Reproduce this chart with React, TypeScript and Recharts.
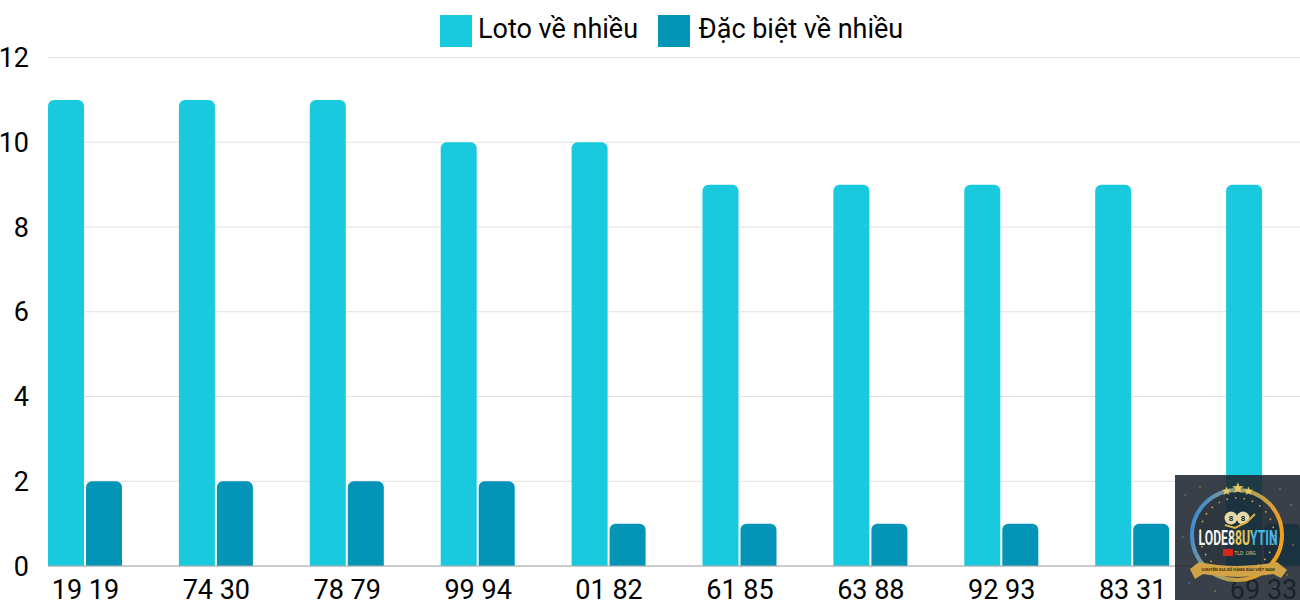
import { BarChart, Bar, XAxis, YAxis, CartesianGrid, Legend } from 'recharts'

const CATEGORIES = ['19 19', '74 30', '78 79', '99 94', '01 82', '61 85', '63 88', '92 93', '83 31', '69 33']
const LOTO_VALUES = [11, 11, 11, 10, 10, 9, 9, 9, 9, 9]
const DAC_BIET_VALUES = [2, 2, 2, 2, 1, 1, 1, 1, 1, 1]
const Y_TICKS = [0, 2, 4, 6, 8, 10, 12]
const SPARKLES = [[10, 20], [25, 12], [105, 14], [116, 30], [8, 62], [118, 70], [14, 108], [40, 116], [100, 112], [112, 100], [30, 30], [96, 28]]

const chartData = CATEGORIES.map((name, i) => ({
  name,
  loto: LOTO_VALUES[i],
  dacBiet: DAC_BIET_VALUES[i],
}))

const FONT = 'Roboto, sans-serif'

// logo in the bottom right corner, drawn over the chart
function Watermark() {
  return (
    <svg
      width={125}
      height={125}
      viewBox="0 0 125 125"
      style={{ position: 'absolute', left: 1175, top: 475 }}
    >
      <defs>
        <linearGradient id="ring" x1="0" y1="0" x2="1" y2="0.3">
          <stop offset="0%" stopColor="#2a86ee" />
          <stop offset="50%" stopColor="#9aa06a" />
          <stop offset="100%" stopColor="#f0a020" />
        </linearGradient>
        <linearGradient id="brand" x1="0" y1="0" x2="1" y2="0">
          <stop offset="0%" stopColor="#f4f4f4" />
          <stop offset="42%" stopColor="#f4f4f4" />
          <stop offset="45%" stopColor="#e8c95e" />
          <stop offset="66%" stopColor="#e8c95e" />
          <stop offset="69%" stopColor="#45b8ee" />
          <stop offset="100%" stopColor="#45b8ee" />
        </linearGradient>
      </defs>
      <rect width={125} height={125} fill="#1f2630" fillOpacity={0.88} />
      {SPARKLES.map(([cx, cy], i) => (
        <circle key={i} cx={cx} cy={cy} r={0.8} fill={i % 2 ? '#c98a3a' : '#3f8fd0'} />
      ))}
      <circle cx={62} cy={60} r={45} fill="#1a2430" fillOpacity={0.35} stroke="url(#ring)" strokeWidth={4} />
      <circle cx={62} cy={60} r={37} fill="none" stroke="#d0a84e" strokeWidth={1.6} strokeDasharray="1.6 7" />
      <text x={51.5} y={20} fontSize={12} fill="#e8c860" textAnchor="middle">★</text>
      <text x={62} y={18} fontSize={15} fill="#e8c860" textAnchor="middle">★</text>
      <text x={73} y={20} fontSize={12} fill="#e8c860" textAnchor="middle">★</text>
      <circle cx={56} cy={43} r={6.5} fill="#e6d9a8" />
      <circle cx={68} cy={43} r={6.5} fill="#e6d9a8" />
      <text x={56} y={46} fontSize={8} fontWeight={700} fill="#2b2415" textAnchor="middle">8</text>
      <text x={68} y={46} fontSize={8} fontWeight={700} fill="#2b2415" textAnchor="middle">8</text>
      <path d="M50 50 L60 53 L72 47 L80 39" fill="none" stroke="#e0b040" strokeWidth={2} />
      <text x={63} y={70} fontSize={20} fontWeight={700} fill="url(#brand)" textAnchor="middle" textLength={79} lengthAdjust="spacingAndGlyphs">LODE88UYTIN</text>
      <rect x={48} y={74} width={10} height={7} fill="#d8261c" />
      <text x={70} y={80} fontSize={5} fill="#d9c98a" textAnchor="middle">TLD .ORG</text>
      <path d="M15 94 L24 87 Q62 95 102 87 L112 95 L106 103 L98 99 Q62 105 28 99 L20 104 Z" fill="#d1a344" />
      <text x={63} y={95.5} fontSize={4.2} fontWeight={700} fill="#3a2a10" textAnchor="middle">CHUYÊN GIA SỐ HÀNG ĐẦU VIỆT NAM</text>
    </svg>
  )
}

export default function App() {
  return (
    <div style={{ position: 'absolute', left: 0, top: 0, width: 1300, height: 600, overflow: 'hidden', background: '#fff', fontFamily: FONT }}>
      <BarChart
        width={1300}
        height={600}
        data={chartData}
        margin={{ top: 24.5, right: 0, bottom: 0, left: 0 }}
        barGap={2}
        barSize={36}
      >
        <CartesianGrid vertical={false} stroke="#e0e0e0" strokeWidth={1} />
        <XAxis
          dataKey="name"
          height={34}
          interval={0}
          tickLine={false}
          padding={{ left: -28, right: -29 }}
          stroke="#a8a8a8"
          tick={{ fontSize: 27, fill: '#000', fontFamily: FONT }}
          tickMargin={8}
        />
        <YAxis
          width={48}
          domain={[0, 12]}
          ticks={Y_TICKS}
          axisLine={false}
          tickLine={false}
          tick={{ fontSize: 27, fill: '#000', fontFamily: FONT }}
          tickMargin={13}
        />
        <Legend
          verticalAlign="top"
          align="left"
          iconType="square"
          iconSize={32}
          height={33}
          wrapperStyle={{ top: 13, left: 440, width: 500, fontSize: 27, fontFamily: FONT, lineHeight: '32px' }}
          formatter={(value, _entry, index) => (
            <span style={{ color: '#000', marginLeft: index ? 4.5 : 2, marginRight: 10 }}>{value}</span>
          )}
        />
        <Bar dataKey="loto" name="Loto về nhiều" fill="#19c9de" radius={[6, 6, 0, 0]} isAnimationActive={false} />
        <Bar dataKey="dacBiet" name="Đặc biệt về nhiều" fill="#0494b8" radius={[6, 6, 0, 0]} isAnimationActive={false} />
      </BarChart>
      <Watermark />
    </div>
  )
}
